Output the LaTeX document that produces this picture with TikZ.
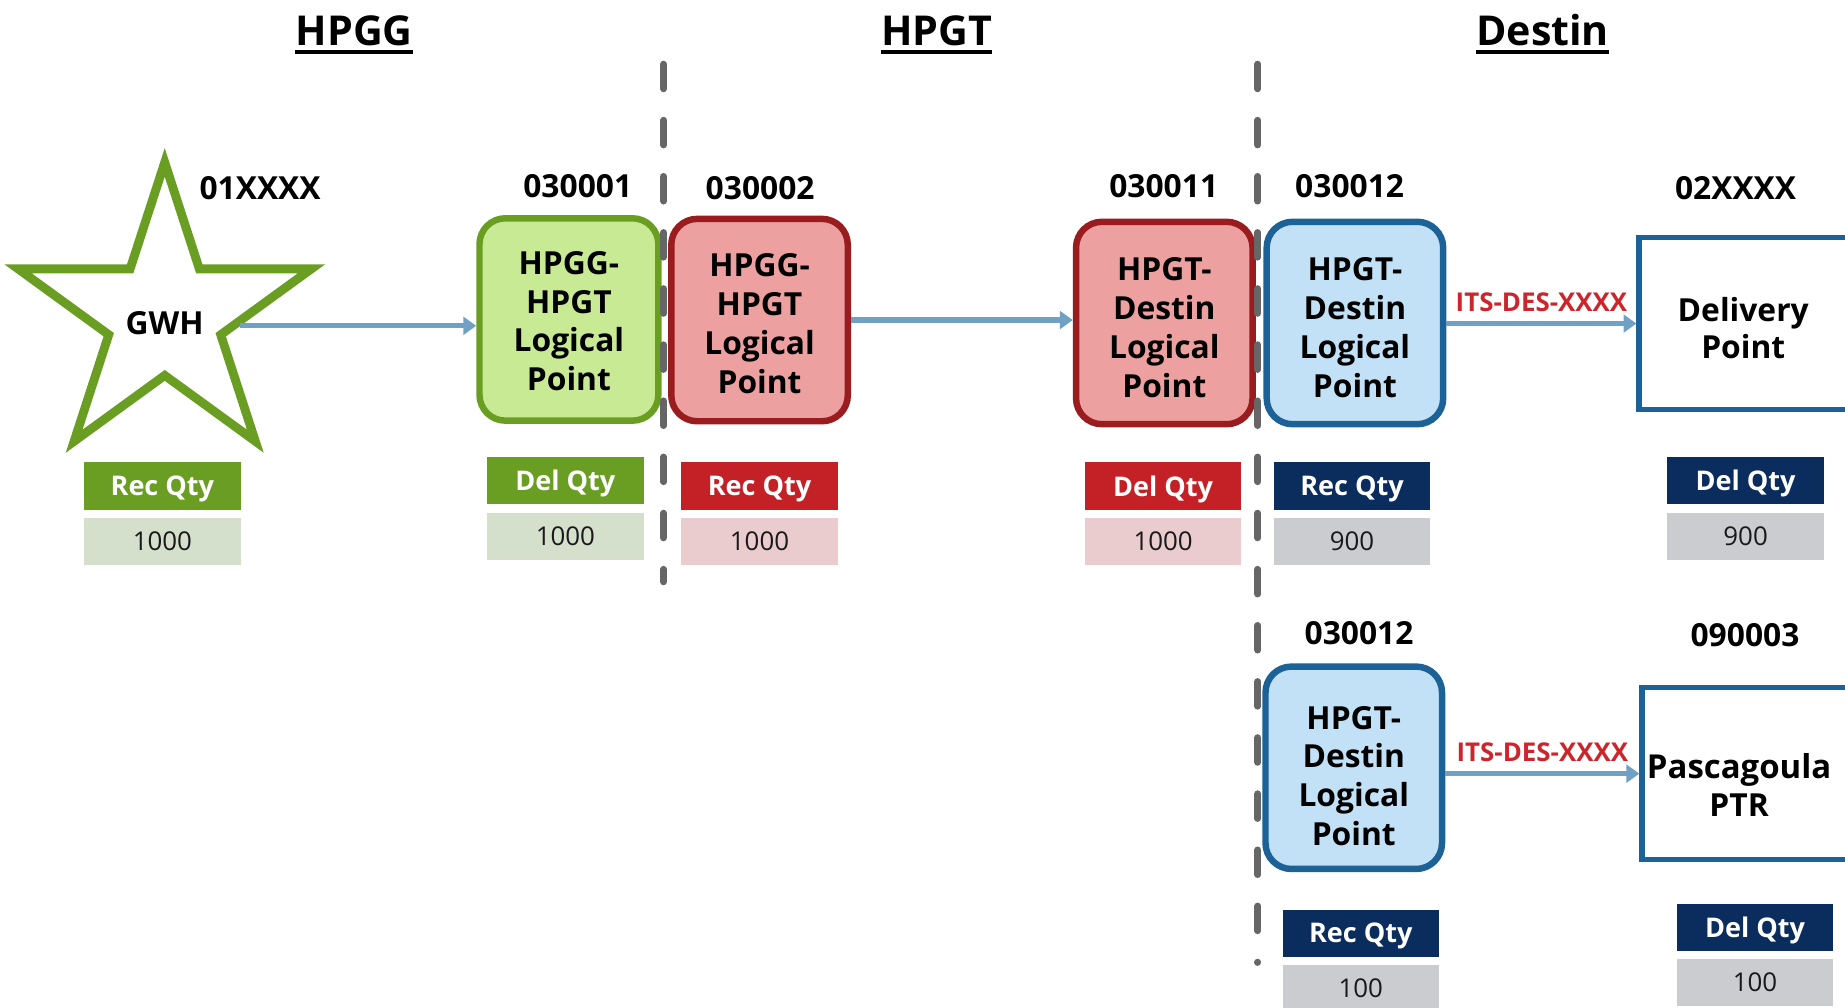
\documentclass[tikz,border=0pt]{standalone}
\usepackage{fontspec}
\setmainfont{Open Sans}
\usetikzlibrary{arrows.meta,shapes.geometric}
\definecolor{gborder}{RGB}{106,158,35}
\definecolor{gfill}{RGB}{200,234,149}
\definecolor{gval}{RGB}{213,224,204}
\definecolor{rborder}{RGB}{155,28,31}
\definecolor{rfill}{RGB}{236,160,160}
\definecolor{rhead}{RGB}{196,33,39}
\definecolor{rval}{RGB}{234,204,206}
\definecolor{bborder}{RGB}{29,98,150}
\definecolor{bfill}{RGB}{195,225,246}
\definecolor{nhead}{RGB}{10,45,94}
\definecolor{nval}{RGB}{203,204,208}
\definecolor{arrowc}{RGB}{112,160,196}
\definecolor{itsred}{RGB}{205,37,44}
\definecolor{sepgray}{RGB}{102,102,102}
\definecolor{valtext}{RGB}{25,25,25}
% lowers a centred block of lines without changing its box size
\newcommand\lowtext[2]{\raisebox{-#1}[\height][\depth]{\begin{tabular}{@{}c@{}}#2\end{tabular}}}
\tikzset{
  lpbox/.style={rounded corners=22pt, line width=5.5pt, inner sep=0pt, minimum width=150pt, minimum height=172pt, align=center, font=\fontsize{27}{33}\selectfont\bfseries},
  greenlp/.style={lpbox, draw=gborder, fill=gfill},
  redlp/.style={lpbox, draw=rborder, fill=rfill},
  bluelp/.style={lpbox, draw=bborder, fill=bfill},
  endbox/.style={draw=bborder, line width=4.5pt, fill=white, inner sep=0pt, minimum width=177pt, minimum height=146pt, align=center, font=\fontsize{27}{32}\selectfont\bfseries},
  hdr/.style={inner sep=0pt, minimum width=133pt, minimum height=40pt, text depth=0pt, text=white, font=\fontsize{23}{23}\selectfont\bfseries},
  val/.style={inner sep=0pt, minimum width=133pt, minimum height=40pt, text=valtext, font=\fontsize{22}{22}\selectfont},
  idlab/.style={inner sep=0pt, font=\fontsize{27}{27}\selectfont\bfseries},
  ttl/.style={inner sep=0pt, anchor=base, font=\fontsize{35}{35}\selectfont\bfseries},
  flow/.style={draw=arrowc, line width=4.5pt, -{Triangle[length=11pt,width=15pt]}},
  its/.style={text=itsred, inner sep=0pt, font=\fontsize{22}{22}\selectfont\bfseries},
  sepline/.style={draw=sepgray, line width=5.8pt, line cap=round, dash pattern=on 21pt off 26.7pt},
  uline/.style={line width=3.5pt}
}
\begin{document}
\begin{tikzpicture}[x=1pt,y=-1pt]
\useasboundingbox (0,0) rectangle (1568,856.6);
\clip (0,0) rectangle (1568,856.6);
% titles
\node[ttl] (t1) at (301,39) {HPGG};
\node[ttl] (t2) at (796,39) {HPGT};
\node[ttl] (t3) at (1311,39) {Destin};
\draw[uline] ([yshift=-5pt]t1.base west) -- ([yshift=-5pt]t1.base east);
\draw[uline] ([yshift=-5pt]t2.base west) -- ([yshift=-5pt]t2.base east);
\draw[uline] ([yshift=-5pt]t3.base west) -- ([yshift=-5pt]t3.base east);
% star
\node[star, star points=5, star point ratio=2.618, minimum size=262pt, inner sep=0pt, draw=gborder, line width=7.5pt, fill=white,
  label={[font=\fontsize{27}{27}\selectfont\bfseries, yshift=-6pt]center:GWH}] (star) at (140,269) {};
% logical points
\node[greenlp, minimum width=152pt] (lp1) at (483.5,271.5) {\lowtext{4.5pt}{HPGG-\\HPGT\\Logical\\Point}};
\node[redlp] (lp2) at (645.5,272) {\lowtext{6pt}{HPGG-\\HPGT\\Logical\\Point}};
\node[redlp] (lp3) at (989.5,274.5) {\lowtext{7pt}{HPGT-\\Destin\\Logical\\Point}};
\node[bluelp] (lp4) at (1151.5,274.5) {\lowtext{7pt}{HPGT-\\Destin\\Logical\\Point}};
\node[bluelp] (lp5) at (1150.5,652.5) {\lowtext{10pt}{HPGT-\\Destin\\Logical\\Point}};
\node[endbox] (dp) at (1481.5,275) {\lowtext{7.5pt}{Delivery\\Point}};
\node[endbox] (pp) at (1484,657.5) {\lowtext{14pt}{\fontsize{28}{32}\selectfont Pascagoula\kern12pt\\PTR\kern12pt}};
% id labels
\node[idlab] (i1) at (221,160) {01XXXX};
\node[idlab] (i2) at (491,158) {030001};
\node[idlab] (i3) at (646,160) {030002};
\node[idlab] (i4) at (989,158) {030011};
\node[idlab] (i5) at (1147,158) {030012};
\node[idlab] (i6) at (1475,160) {02XXXX};
\node[idlab] (i7) at (1155,538) {030012};
\node[idlab] (i8) at (1483,540) {090003};
% quantity tables
\node[hdr, fill=gborder] (h1) at (138,413) {Rec Qty};
\node[val, fill=gval] (v1) at (138,460) {1000};
\node[hdr, fill=gborder] (h2) at (480.5,408.5) {Del Qty};
\node[val, fill=gval] (v2) at (480.5,456) {1000};
\node[hdr, fill=rhead] (h3) at (645.5,413) {Rec Qty};
\node[val, fill=rval] (v3) at (645.5,460) {1000};
\node[hdr, fill=rhead] (h4) at (988.5,413) {Del Qty};
\node[val, fill=rval] (v4) at (988.5,460) {1000};
\node[hdr, fill=nhead] (h5) at (1149,413) {Rec Qty};
\node[val, fill=nval] (v5) at (1149,460) {900};
\node[hdr, fill=nhead] (h6) at (1483.5,408.5) {Del Qty};
\node[val, fill=nval] (v6) at (1483.5,456) {900};
\node[hdr, fill=nhead] (h7) at (1156.5,793) {Rec Qty};
\node[val, fill=nval] (v7) at (1156.5,840) {100};
\node[hdr, fill=nhead] (h8) at (1491.5,788) {Del Qty};
\node[val, fill=nval] (v8) at (1491.5,835) {100};
% connectors
\draw[flow] (star.-7) -- (star.-7 -| lp1.west);
\draw[flow] (lp2.east) -- (lp2.east -| lp3.west);
\draw[flow] (lp4.east |- dp.west) -- (dp.west) node[its, midway, above=8pt] {ITS-DES-XXXX};
\draw[flow] (lp5.east |- pp.west) -- (pp.west) node[its, midway, above=8pt] {ITS-DES-XXXX};
% separators
\coordinate (s1a) at (564,54.5);
\coordinate (s1b) at (564,494.5);
\coordinate (s2a) at (1069,54.5);
\coordinate (s2b) at (1069,818);
\draw[sepline] (s1a) -- (s1b);
\draw[sepline] (s2a) -- (s2b);
\end{tikzpicture}
\end{document}
